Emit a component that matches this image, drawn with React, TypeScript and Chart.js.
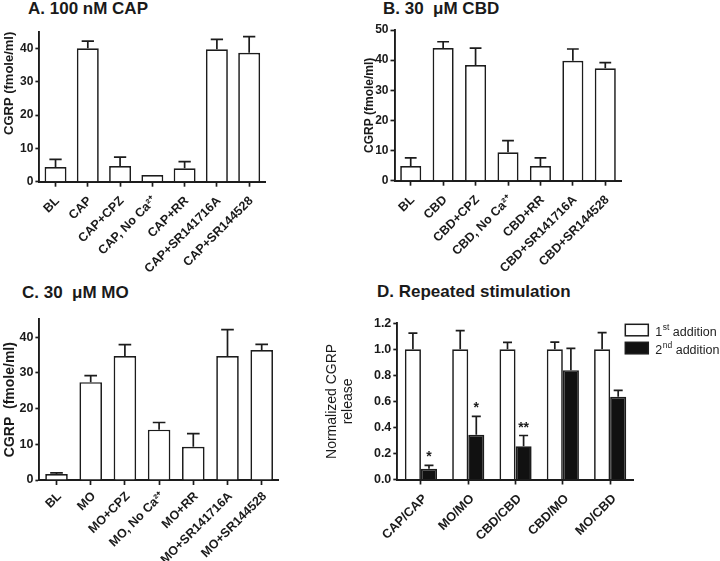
import React, { useEffect, useRef } from "react";
import { Chart, registerables } from "chart.js";

Chart.register(...registerables);

const FONT = "'Liberation Sans', Arial, Helvetica, sans-serif";
const INK = "#1c1c1c";

// ---------- Panel A: 100 nM CAP ----------
const capLabels = ["BL", "CAP", "CAP+CPZ", "CAP, No Ca²⁺", "CAP+RR", "CAP+SR141716A", "CAP+SR144528"];
const capMeans = [4.4, 40.0, 4.7, 2.0, 4.0, 39.7, 38.7];
const capErr = [2.3, 2.2, 2.7, 0, 2.0, 3.0, 4.8];
const capTicks = [0, 10, 20, 30, 40];

// ---------- Panel B: 30 uM CBD ----------
const cbdLabels = ["BL", "CBD", "CBD+CPZ", "CBD, No Ca²⁺", "CBD+RR", "CBD+SR141716A", "CBD+SR144528"];
const cbdMeans = [4.9, 44.0, 38.4, 9.4, 4.9, 39.8, 37.3];
const cbdErr = [2.7, 2.1, 5.6, 3.9, 2.7, 3.9, 1.9];
const cbdTicks = [0, 10, 20, 30, 40, 50];

// ---------- Panel C: 30 uM MO ----------
const moLabels = ["BL", "MO", "MO+CPZ", "MO, No Ca²⁺", "MO+RR", "MO+SR141716A", "MO+SR144528"];
const moMeans = [1.7, 27.4, 34.7, 14.1, 9.3, 34.7, 36.4];
const moErr = [0.3, 1.8, 3.2, 2.0, 3.7, 7.4, 1.6];
const moTicks = [0, 10, 20, 30, 40];

// ---------- Panel D: Repeated stimulation ----------
const repLabels = ["CAP/CAP", "MO/MO", "CBD/CBD", "CBD/MO", "MO/CBD"];
const firstMeans = [1.0, 1.0, 1.0, 1.0, 1.0];
const firstErr = [0.124, 0.144, 0.053, 0.056, 0.128];
const secondMeans = [0.082, 0.343, 0.256, 0.84, 0.636];
const secondErr = [0.027, 0.142, 0.082, 0.168, 0.048];
const secondMarks = ["*", "*", "**", "", ""];
const repTicks = [0, 0.2, 0.4, 0.6, 0.8, 1.0, 1.2];
const legendParts = [
  ["1", "st", " addition"],
  ["2", "nd", " addition"],
];

const errorBarPlugin = {
  id: "errorBars",
  afterDatasetsDraw(chart: any) {
    const ctx = chart.ctx;
    const y = chart.scales.y;
    chart.data.datasets.forEach((ds: any, di: number) => {
      const meta = chart.getDatasetMeta(di);
      meta.data.forEach((bar: any, i: number) => {
        const v = ds.data[i];
        const e = ds.errors ? ds.errors[i] : 0;
        const x = bar.x;
        const hw = bar.width * 0.28;
        const yTop = y.getPixelForValue(v);
        const yErr = y.getPixelForValue(v + e);
        ctx.save();
        ctx.strokeStyle = INK;
        ctx.lineWidth = 1.7;
        if (e > 0) {
          ctx.beginPath();
          ctx.moveTo(x, yTop);
          ctx.lineTo(x, yErr);
          ctx.moveTo(x - hw, yErr);
          ctx.lineTo(x + hw, yErr);
          ctx.stroke();
        }
        const m = ds.marks ? ds.marks[i] : "";
        if (m) {
          ctx.fillStyle = INK;
          ctx.font = `bold 14px ${FONT}`;
          ctx.textAlign = "center";
          ctx.textBaseline = "alphabetic";
          ctx.fillText(m, x, yErr - 4);
        }
        ctx.restore();
      });
    });
  },
};

const supLegendPlugin = {
  id: "supLegend",
  afterDraw(chart: any, _args: any, opts: any) {
    if (!opts || !opts.items) return;
    const ctx = chart.ctx;
    const area = chart.chartArea;
    const x0 = area.right - 8.5;
    opts.items.forEach((it: any, i: number) => {
      const top = area.top + 1 + i * 18;
      ctx.save();
      ctx.fillStyle = it.fill;
      ctx.strokeStyle = INK;
      ctx.lineWidth = 1.5;
      ctx.fillRect(x0, top, 23, 11.5);
      ctx.strokeRect(x0, top, 23, 11.5);
      const base = top + 12;
      let tx = x0 + 30;
      ctx.fillStyle = "#222";
      ctx.textBaseline = "alphabetic";
      ctx.textAlign = "left";
      ctx.font = `12.5px ${FONT}`;
      ctx.fillText(it.parts[0], tx, base);
      tx += ctx.measureText(it.parts[0]).width + 0.5;
      ctx.font = `8.5px ${FONT}`;
      ctx.fillText(it.parts[1], tx, base - 6);
      tx += ctx.measureText(it.parts[1]).width;
      ctx.font = `12.5px ${FONT}`;
      ctx.fillText(it.parts[2], tx, base);
      ctx.restore();
    });
  },
};

type Box = { left: number; top: number; width: number; height: number };
type Area = { left: number; top: number; right: number; bottom: number };

function makeChart(
  canvas: HTMLCanvasElement,
  box: Box,
  area: Area,
  labels: string[],
  datasets: any[],
  yMax: number,
  yTicks: number[],
  yTitle: string | string[],
  yTitleFont: any,
  yTitleAlign: string,
  tickDecimals: number,
  barPct: number,
  catPct: number,
  legendItems: any[] | null,
  xFontSize: number,
  yFontSize: number,
  xPad: number,
  xShift: number
) {
  const yWidth = area.left - box.left;
  const xHeight = box.top + box.height - area.bottom;
  return new Chart(canvas, {
    type: "bar",
    data: {
      labels,
      datasets: datasets.map((d) => ({
        label: d.label,
        data: d.data,
        errors: d.errors,
        marks: d.marks,
        backgroundColor: d.fill,
        borderColor: INK,
        borderWidth: 1.7,
        barPercentage: barPct,
        categoryPercentage: catPct,
      })),
    } as any,
    options: {
      responsive: false,
      animation: false,
      devicePixelRatio: 1,
      layout: {
        padding: {
          left: 0,
          top: area.top - box.top,
          right: box.left + box.width - area.right,
          bottom: 0,
        },
      },
      plugins: {
        legend: { display: false },
        tooltip: { enabled: false },
        supLegend: legendItems ? { items: legendItems } : {},
      } as any,
      scales: {
        x: {
          offset: true,
          grid: {
            offset: false,
            drawOnChartArea: false,
            drawTicks: true,
            tickLength: 5,
            tickColor: INK,
            tickWidth: 1.7,
          },
          border: { display: true, color: INK, width: 1.9 },
          ticks: {
            autoSkip: false,
            minRotation: 45,
            maxRotation: 45,
            padding: xPad,
            labelOffset: xShift,
            color: "#1a1a1a",
            font: { family: FONT, size: xFontSize, weight: "bold" },
          },
          afterFit: (s: any) => {
            s.height = xHeight;
          },
        },
        y: {
          min: 0,
          max: yMax,
          grid: {
            drawOnChartArea: false,
            drawTicks: true,
            tickLength: 4,
            tickColor: INK,
            tickWidth: 1.7,
          },
          border: { display: true, color: INK, width: 1.9 },
          ticks: {
            padding: 2,
            color: "#1a1a1a",
            font: { family: FONT, size: yFontSize, weight: "bold" },
            callback: (v: any) => Number(v).toFixed(tickDecimals),
          },
          afterBuildTicks: (s: any) => {
            s.ticks = yTicks.map((v) => ({ value: v }));
          },
          title: {
            display: true,
            text: yTitle,
            align: yTitleAlign,
            color: "#1a1a1a",
            font: yTitleFont,
            padding: { top: 2, bottom: 0 },
          },
          afterFit: (s: any) => {
            s.width = yWidth;
          },
        },
      },
    } as any,
    plugins: [errorBarPlugin, supLegendPlugin],
  });
}

const boxA: Box = { left: 0, top: 20, width: 360, height: 260 };
const boxB: Box = { left: 360, top: 20, width: 360, height: 260 };
const boxC: Box = { left: 0, top: 300, width: 330, height: 261 };
const boxD: Box = { left: 322, top: 300, width: 398, height: 261 };

export default function App() {
  const refA = useRef<HTMLCanvasElement>(null);
  const refB = useRef<HTMLCanvasElement>(null);
  const refC = useRef<HTMLCanvasElement>(null);
  const refD = useRef<HTMLCanvasElement>(null);

  useEffect(() => {
    const charts: Chart[] = [];
    charts.push(
      makeChart(
        refA.current!,
        boxA,
        { left: 39.4, top: 31.7, right: 265.3, bottom: 181.7 },
        capLabels,
        [{ label: "CAP", data: capMeans, errors: capErr, fill: "#ffffff" }],
        45,
        capTicks,
        "CGRP (fmole/ml)",
        { family: FONT, size: 13, weight: "bold" },
        "end",
        0,
        0.68,
        1,
        null,
        12.5,
        12,
        7,
        2
      )
    );
    charts.push(
      makeChart(
        refB.current!,
        boxB,
        { left: 394.5, top: 30, right: 621.5, bottom: 180.7 },
        cbdLabels,
        [{ label: "CBD", data: cbdMeans, errors: cbdErr, fill: "#ffffff" }],
        50,
        cbdTicks,
        "CGRP (fmole/ml)",
        { family: FONT, size: 12, weight: "bold" },
        "center",
        0,
        0.65,
        1,
        null,
        12.5,
        12,
        7,
        2
      )
    );
    charts.push(
      makeChart(
        refC.current!,
        boxC,
        { left: 39.4, top: 319.3, right: 278.8, bottom: 480 },
        moLabels,
        [{ label: "MO", data: moMeans, errors: moErr, fill: "#ffffff" }],
        45,
        moTicks,
        "CGRP  (fmole/ml)",
        { family: FONT, size: 14, weight: "bold" },
        "center",
        0,
        0.66,
        1,
        null,
        12.5,
        12.5,
        4,
        3
      )
    );
    charts.push(
      makeChart(
        refD.current!,
        boxD,
        { left: 397.3, top: 323.3, right: 633.8, bottom: 479.5 },
        repLabels,
        [
          { label: "1st addition", data: firstMeans, errors: firstErr, fill: "#ffffff" },
          { label: "2nd addition", data: secondMeans, errors: secondErr, marks: secondMarks, fill: "#111111" },
        ],
        1.2,
        repTicks,
        ["Normalized CGRP", "release"],
        { family: FONT, size: 14, weight: "normal", lineHeight: 1.15 },
        "center",
        1,
        1,
        0.68,
        [
          { parts: legendParts[0], fill: "#ffffff" },
          { parts: legendParts[1], fill: "#111111" },
        ],
        12.7,
        12.5,
        7,
        4
      )
    );
    return () => charts.forEach((c) => c.destroy());
  }, []);

  const canvasStyle = (b: Box): React.CSSProperties => ({
    position: "absolute",
    left: b.left,
    top: b.top,
    width: b.width,
    height: b.height,
  });
  const titleStyle = (left: number, top: number): React.CSSProperties => ({
    position: "absolute",
    left,
    top,
    font: `bold 17px ${FONT}`,
    lineHeight: "17px",
    color: "#1a1a1a",
    whiteSpace: "pre",
  });

  return (
    <div style={{ position: "absolute", left: 0, top: 0, width: 720, height: 561, background: "#fff", overflow: "hidden" }}>
      <div style={titleStyle(28, 0)}>A. 100 nM CAP</div>
      <div style={titleStyle(383, 0)}>{"B. 30  μM CBD"}</div>
      <div style={titleStyle(22, 283.5)}>{"C. 30  μM MO"}</div>
      <div style={titleStyle(377, 282.5)}>D. Repeated stimulation</div>
      <canvas ref={refA} width={boxA.width} height={boxA.height} style={canvasStyle(boxA)} />
      <canvas ref={refB} width={boxB.width} height={boxB.height} style={canvasStyle(boxB)} />
      <canvas ref={refC} width={boxC.width} height={boxC.height} style={canvasStyle(boxC)} />
      <canvas ref={refD} width={boxD.width} height={boxD.height} style={canvasStyle(boxD)} />
    </div>
  );
}
